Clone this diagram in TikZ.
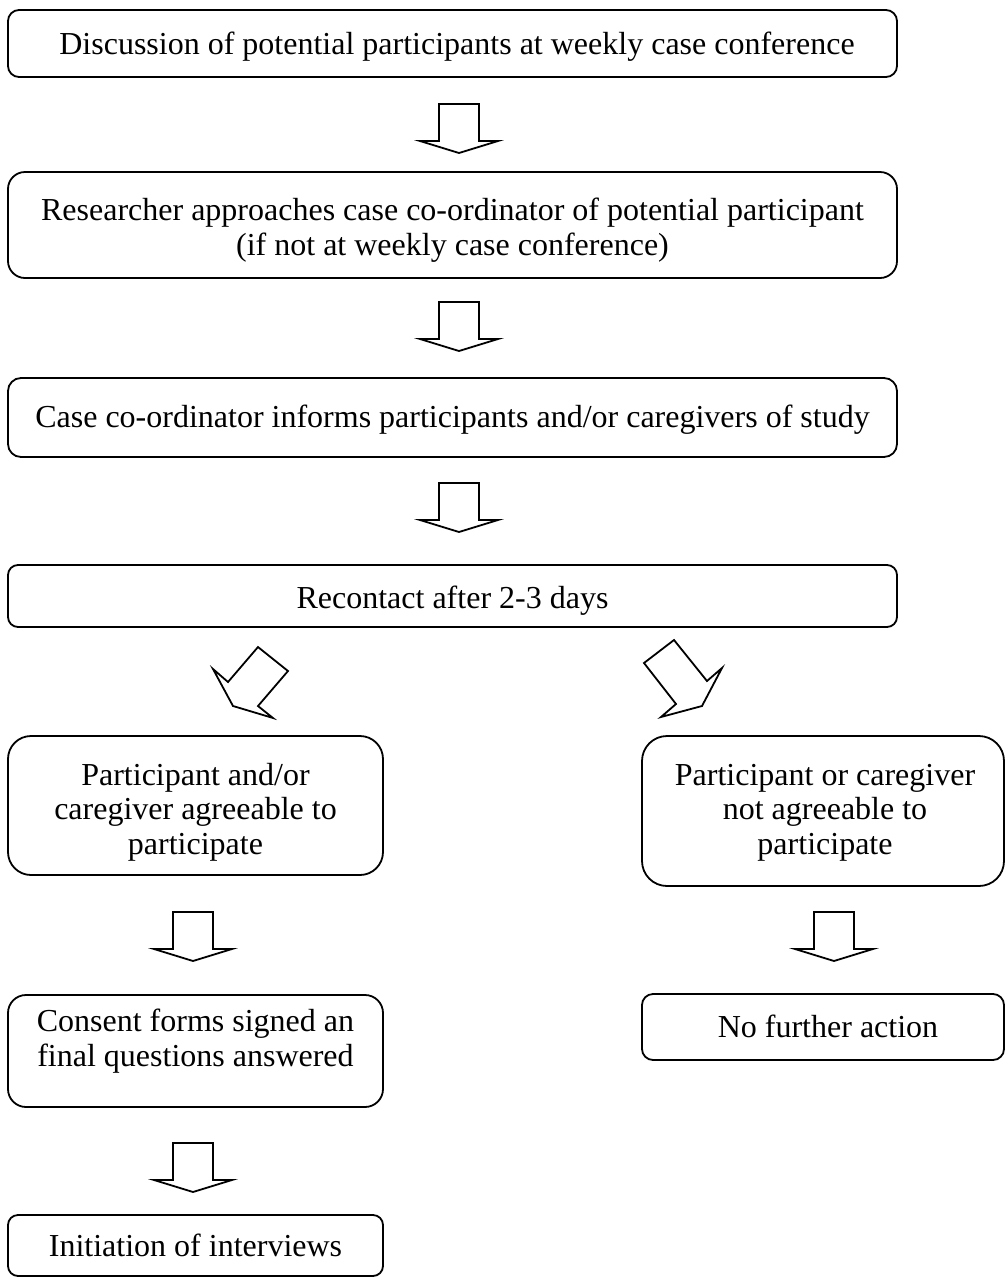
\documentclass[tikz,border=0pt]{standalone}
\usepackage{fontspec}
\setmainfont{Liberation Serif}
\begin{document}
\begin{tikzpicture}[x=1pt,y=-1pt,
  box/.style={draw, line width=1.8pt, inner sep=0pt},
  txt/.style={font=\fontsize{32}{34.5}\selectfont, align=center, anchor=base, inner sep=0pt},
  blk/.style={draw, line width=1.8pt, line join=miter, fill=white},
  dnarrow/.pic={\path[blk] (-20,0) -- (20,0) -- (20,37) -- (39,37) -- (0,49) -- (-39,37) -- (-20,37) -- cycle;}
]
\useasboundingbox (0,0) rectangle (1006,1283);
% boxes
\draw[box, rounded corners=11pt] (8,10) rectangle (897,77);
\node[txt] (t1) at (457,54) {Discussion of potential participants at weekly case conference};
\draw[box, rounded corners=17pt] (8,172) rectangle (897,278);
\node[txt] (t2) at (452.5,255) {Researcher approaches case co-ordinator of potential participant\\(if not at weekly case conference)};
\draw[box, rounded corners=13pt] (8,378) rectangle (897,457);
\node[txt] (t3) at (452.5,427) {Case co-ordinator informs participants and/or caregivers of study};
\draw[box, rounded corners=10pt] (8,565) rectangle (897,627);
\node[txt] (t4) at (452.5,608) {Recontact after 2-3 days};
\draw[box, rounded corners=23pt] (8,736) rectangle (383,875);
\node[txt] (t5) at (195.5,854) {Participant and/or\\caregiver agreeable to\\participate};
\draw[box, rounded corners=25pt] (642,736) rectangle (1004,886);
\node[txt] (t6) at (825,854) {Participant or caregiver\\not agreeable to\\participate};
\draw[box, rounded corners=18pt] (8,995) rectangle (383,1107);
\node[txt] (t7) at (195.5,1066) {Consent forms signed an\\final questions answered};
\draw[box, rounded corners=11pt] (642,994) rectangle (1004,1060);
\node[txt] (t8) at (828,1037) {No further action};
\draw[box, rounded corners=10pt] (8,1215) rectangle (383,1276);
\node[txt] (t9) at (195.5,1256) {Initiation of interviews};
% block arrows
\pic at (459,104) {dnarrow};
\pic at (459,302) {dnarrow};
\pic at (459,483) {dnarrow};
\pic at (193,912) {dnarrow};
\pic at (834,912) {dnarrow};
\pic at (193,1143) {dnarrow};
\path[blk] (258,647) -- (288,671) -- (258,706) -- (273,718) -- (233,706) -- (213,669) -- (228,682) -- cycle;
\path[blk] (674,640) -- (707,681) -- (722,668) -- (702,706) -- (661,717) -- (676,704) -- (644,663) -- cycle;
\end{tikzpicture}
\end{document}
